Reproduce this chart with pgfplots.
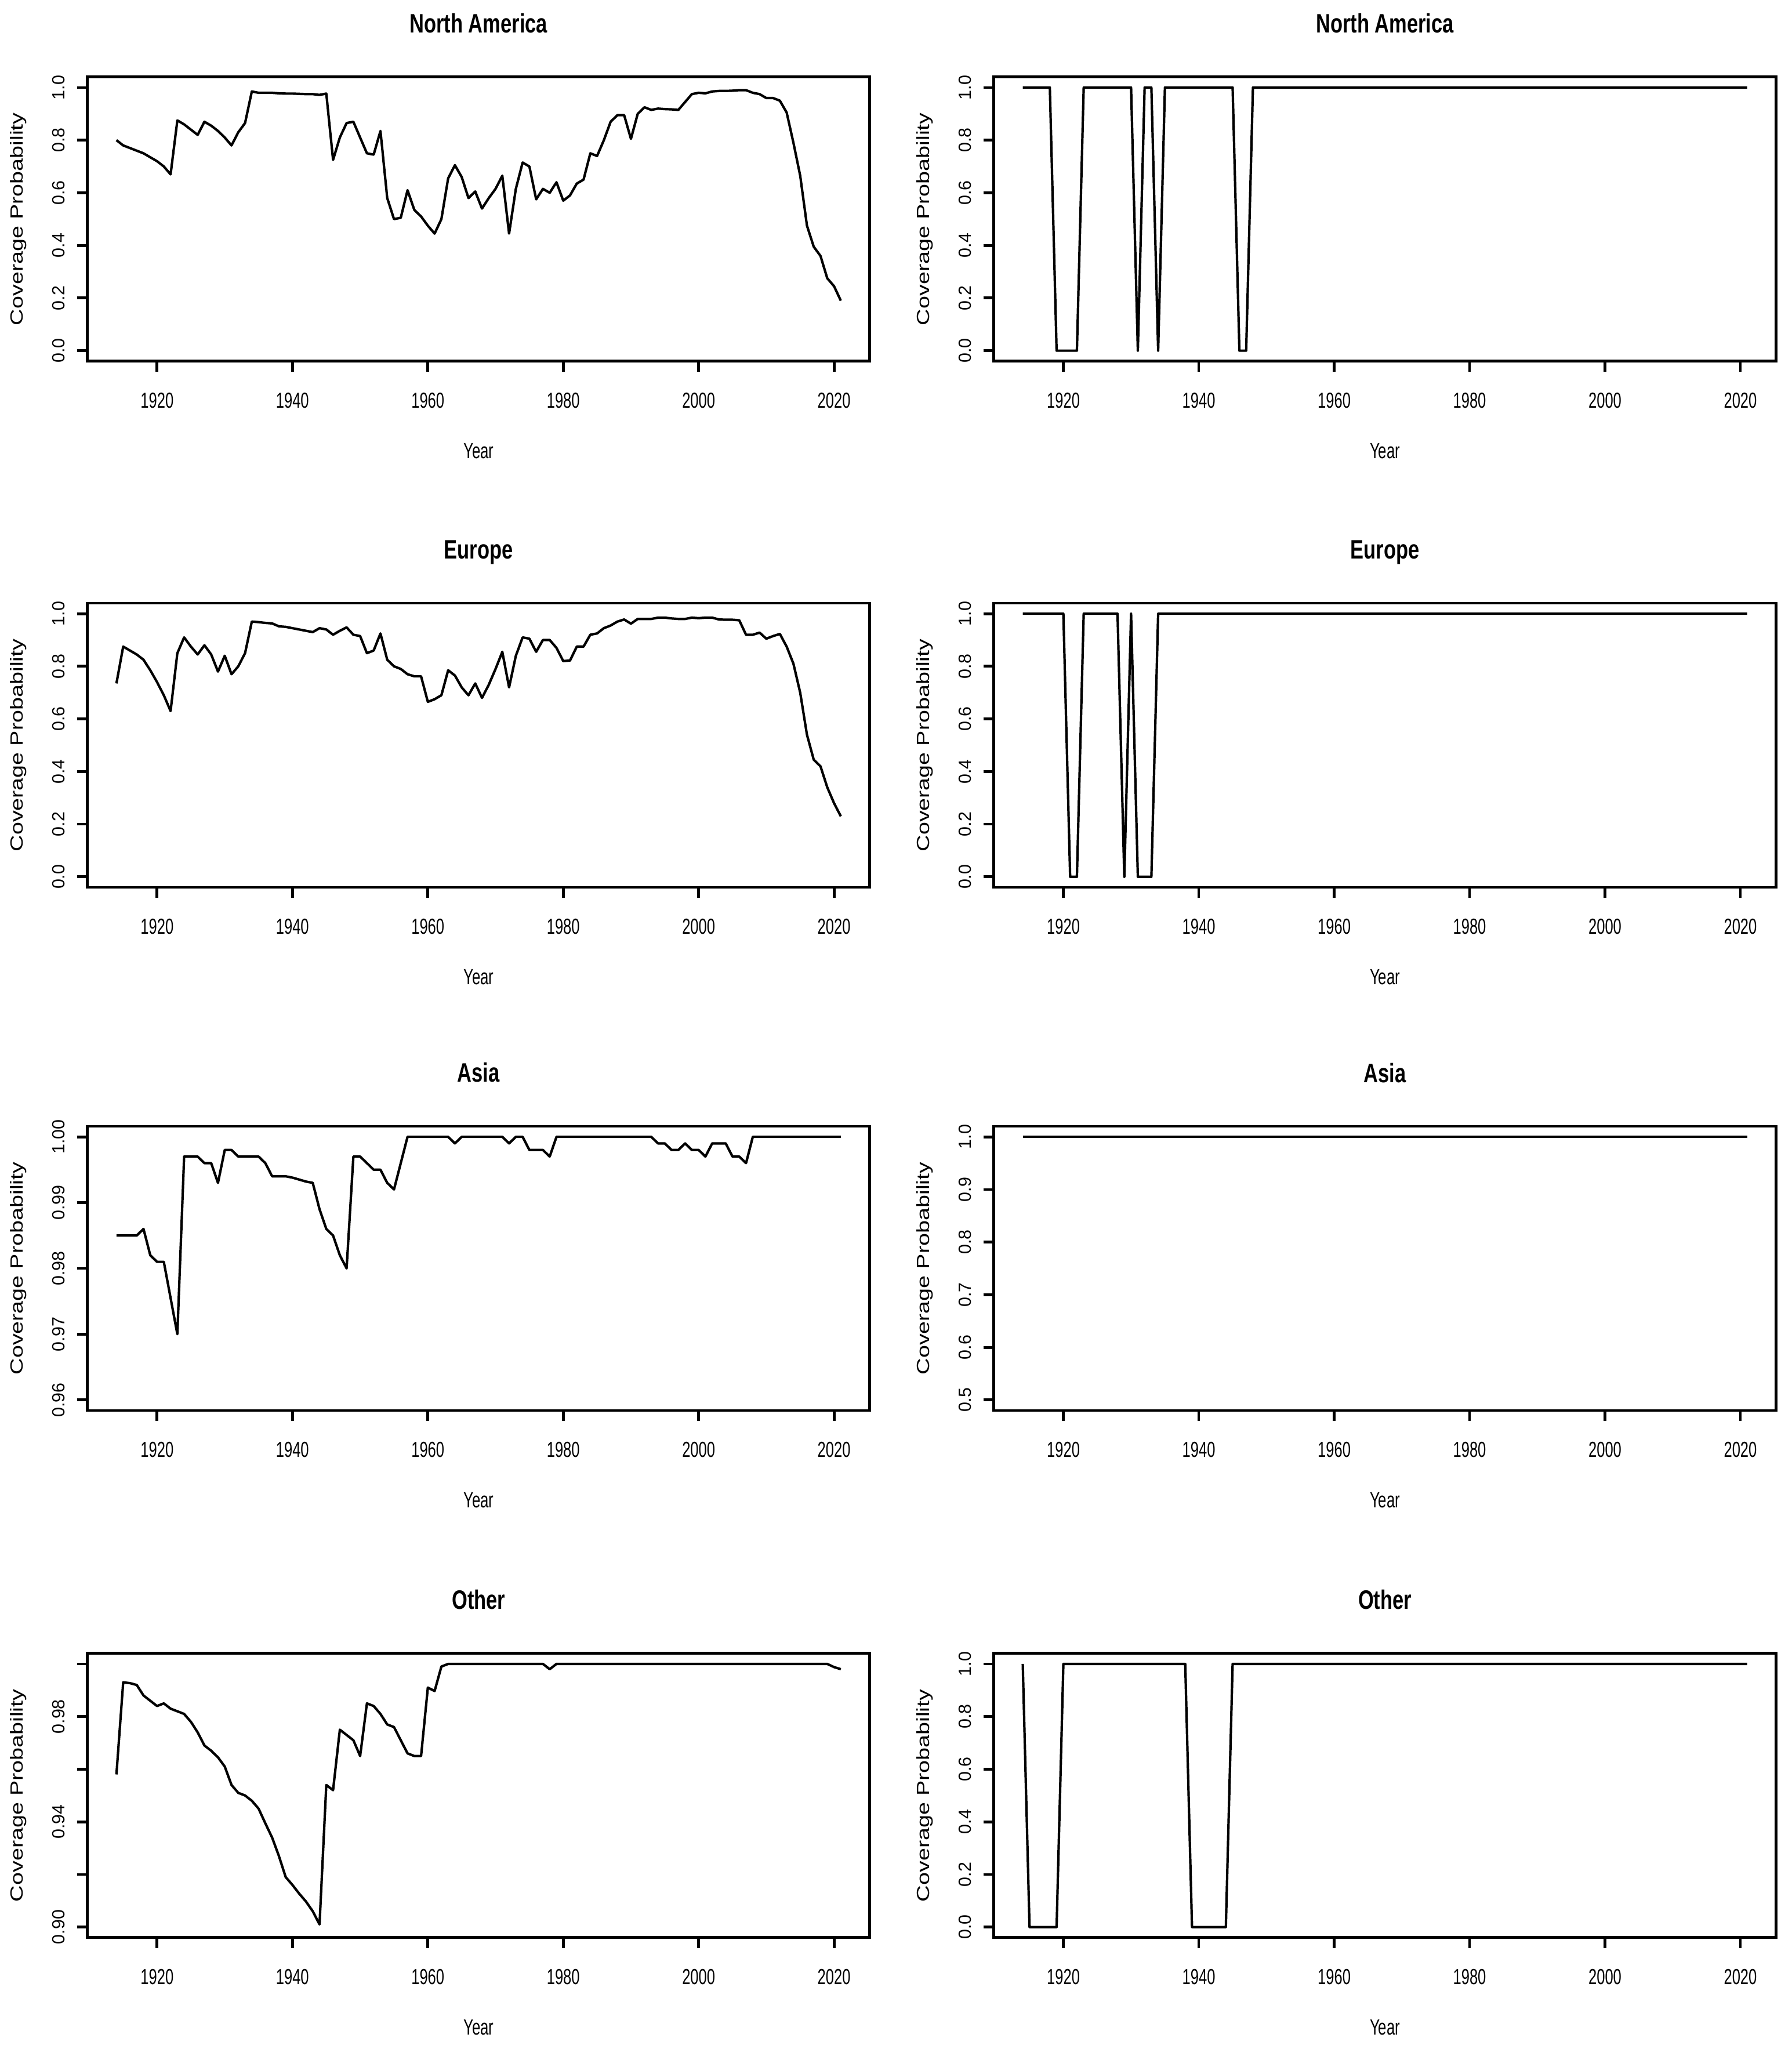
\documentclass[border=0pt]{standalone}
\usepackage{fontspec}
\setmainfont{Liberation Sans}
\newfontfamily\narrowfont{Liberation Sans}[FakeStretch=0.68]
\newfontfamily\titlefont{Liberation Sans}[FakeStretch=0.75]
\newfontfamily\widefont{Liberation Sans}[FakeStretch=1.3]
\usepackage{pgfplots}
\usepackage{pgfplotstable}
\pgfplotsset{compat=1.18}

% year, North America, Europe, Asia, Other
\pgfplotstableread{
year na eu as ot
1914 0.800 0.735 0.985 0.958
1915 0.780 0.875 0.985 0.993
1916 0.770 0.860 0.985 0.9927
1917 0.760 0.845 0.985 0.992
1918 0.750 0.825 0.986 0.988
1919 0.735 0.785 0.982 0.986
1920 0.720 0.740 0.981 0.984
1921 0.700 0.690 0.981 0.985
1922 0.670 0.630 0.9755 0.983
1923 0.875 0.850 0.970 0.982
1924 0.860 0.910 0.997 0.981
1925 0.840 0.875 0.997 0.978
1926 0.820 0.845 0.997 0.974
1927 0.870 0.880 0.996 0.969
1928 0.855 0.845 0.996 0.967
1929 0.835 0.780 0.993 0.9645
1930 0.810 0.840 0.998 0.961
1931 0.780 0.770 0.998 0.954
1932 0.830 0.800 0.997 0.951
1933 0.865 0.850 0.997 0.950
1934 0.985 0.970 0.997 0.948
1935 0.980 0.968 0.997 0.945
1936 0.980 0.965 0.996 0.9394
1937 0.980 0.963 0.994 0.934
1938 0.978 0.952 0.994 0.927
1939 0.977 0.950 0.994 0.919
1940 0.977 0.945 0.9938 0.916
1941 0.976 0.940 0.9935 0.9127
1942 0.975 0.935 0.9932 0.9097
1943 0.975 0.930 0.993 0.906
1944 0.972 0.945 0.989 0.901
1945 0.977 0.940 0.986 0.954
1946 0.725 0.920 0.985 0.952
1947 0.810 0.935 0.982 0.975
1948 0.865 0.948 0.980 0.973
1949 0.870 0.920 0.997 0.971
1950 0.810 0.915 0.997 0.965
1951 0.750 0.850 0.996 0.985
1952 0.745 0.860 0.995 0.984
1953 0.835 0.925 0.995 0.981
1954 0.580 0.825 0.993 0.977
1955 0.500 0.800 0.992 0.976
1956 0.505 0.790 0.996 0.971
1957 0.610 0.770 1.000 0.966
1958 0.535 0.762 1.000 0.965
1959 0.510 0.762 1.000 0.965
1960 0.475 0.665 1.000 0.991
1961 0.445 0.675 1.000 0.9897
1962 0.500 0.690 1.000 0.999
1963 0.655 0.785 1.000 1.000
1964 0.705 0.765 0.999 1.000
1965 0.660 0.720 1.000 1.000
1966 0.580 0.690 1.000 1.000
1967 0.605 0.735 1.000 1.000
1968 0.540 0.680 1.000 1.000
1969 0.580 0.730 1.000 1.000
1970 0.615 0.790 1.000 1.000
1971 0.665 0.855 1.000 1.000
1972 0.445 0.720 0.999 1.000
1973 0.615 0.840 1.000 1.000
1974 0.715 0.910 1.000 1.000
1975 0.700 0.905 0.998 1.000
1976 0.575 0.855 0.998 1.000
1977 0.615 0.900 0.998 1.000
1978 0.600 0.900 0.997 0.998
1979 0.640 0.870 1.000 1.000
1980 0.570 0.820 1.000 1.000
1981 0.590 0.822 1.000 1.000
1982 0.635 0.875 1.000 1.000
1983 0.650 0.875 1.000 1.000
1984 0.750 0.920 1.000 1.000
1985 0.740 0.925 1.000 1.000
1986 0.800 0.945 1.000 1.000
1987 0.870 0.955 1.000 1.000
1988 0.895 0.970 1.000 1.000
1989 0.895 0.978 1.000 1.000
1990 0.805 0.962 1.000 1.000
1991 0.900 0.980 1.000 1.000
1992 0.925 0.980 1.000 1.000
1993 0.915 0.980 1.000 1.000
1994 0.920 0.985 0.999 1.000
1995 0.918 0.985 0.999 1.000
1996 0.917 0.982 0.998 1.000
1997 0.915 0.980 0.998 1.000
1998 0.945 0.980 0.999 1.000
1999 0.975 0.985 0.998 1.000
2000 0.980 0.983 0.998 1.000
2001 0.978 0.985 0.997 1.000
2002 0.985 0.985 0.999 1.000
2003 0.987 0.978 0.999 1.000
2004 0.987 0.977 0.999 1.000
2005 0.988 0.977 0.997 1.000
2006 0.990 0.975 0.997 1.000
2007 0.990 0.920 0.996 1.000
2008 0.980 0.920 1.000 1.000
2009 0.975 0.928 1.000 1.000
2010 0.960 0.905 1.000 1.000
2011 0.960 0.915 1.000 1.000
2012 0.950 0.923 1.000 1.000
2013 0.905 0.875 1.000 1.000
2014 0.790 0.810 1.000 1.000
2015 0.665 0.700 1.000 1.000
2016 0.475 0.540 1.000 1.000
2017 0.395 0.445 1.000 1.000
2018 0.360 0.420 1.000 1.000
2019 0.275 0.340 1.000 1.000
2020 0.245 0.280 1.000 0.9988
2021 0.190 0.230 1.000 0.998
}\leftdata

% right column: 0/1 coverage, constant 1 after 1948
\pgfplotstableread{
year na eu as ot
1914 1 1 1 1
1915 1 1 1 0
1916 1 1 1 0
1917 1 1 1 0
1918 1 1 1 0
1919 0 1 1 0
1920 0 1 1 1
1921 0 0 1 1
1922 0 0 1 1
1923 1 1 1 1
1924 1 1 1 1
1925 1 1 1 1
1926 1 1 1 1
1927 1 1 1 1
1928 1 1 1 1
1929 1 0 1 1
1930 1 1 1 1
1931 0 0 1 1
1932 1 0 1 1
1933 1 0 1 1
1934 0 1 1 1
1935 1 1 1 1
1936 1 1 1 1
1937 1 1 1 1
1938 1 1 1 1
1939 1 1 1 0
1940 1 1 1 0
1941 1 1 1 0
1942 1 1 1 0
1943 1 1 1 0
1944 1 1 1 0
1945 1 1 1 1
1946 0 1 1 1
1947 0 1 1 1
1948 1 1 1 1
1949 1 1 1 1
1950 1 1 1 1
2021 1 1 1 1
}\rightdata

\pgfplotsset{
  rbox/.style={
    scale only axis, width=337.25pt, height=122.5pt, anchor=south west,
    xmin=1909.72, xmax=2025.28,
    xtick={1920,1940,1960,1980,2000,2020},
    xticklabels={1920,1940,1960,1980,2000,2020},
    tick pos=left, tick align=outside, major tick length=4.5pt,
    axis line style={line width=1.2pt},
    major tick style={black, line width=1.2pt},
    xticklabel style={font=\fontsize{9.4}{10}\selectfont\narrowfont,
      anchor=north, inner sep=0pt, yshift=-8.9pt},
    yticklabel style={font=\fontsize{7.6}{8}\selectfont,
      xshift=-5pt, rotate=90, anchor=south, inner sep=0pt},
    xlabel={Year}, ylabel={Coverage Probability},
    every axis x label/.style={at={(axis description cs:0.5,-0.3163)},
      anchor=center, font=\fontsize{9.5}{10}\selectfont\narrowfont},
    every axis y label/.style={at={(axis description cs:-0.0882,0.5)},
      rotate=90, anchor=center, font=\fontsize{7.6}{8}\selectfont\widefont},
    every axis title/.style={at={(axis description cs:0.5,1)},
      anchor=base, yshift=19pt,
      font=\fontsize{11.5}{12}\selectfont\titlefont\bfseries},
  },
  unit/.style={ymin=-0.04, ymax=1.04,
    ytick={0,0.2,0.4,0.6,0.8,1},
    yticklabels={0.0,0.2,0.4,0.6,0.8,1.0}},
  rline/.style={black, line width=1.05pt, no marks, line join=round},
}

\begin{document}
\begin{tikzpicture}
\path[use as bounding box] (0,0) rectangle (772.5pt,881.5pt);

% ---- left column ----
\begin{axis}[rbox, unit, at={(37.7pt,725.8pt)}, title={North America}]
\addplot[rline] table[x=year, y=na] {\leftdata};
\end{axis}

\begin{axis}[rbox, unit, at={(37.7pt,499pt)}, title={Europe}]
\addplot[rline] table[x=year, y=eu] {\leftdata};
\end{axis}

\begin{axis}[rbox, at={(37.7pt,273.5pt)}, title={Asia},
  ymin=0.9584, ymax=1.0016,
  ytick={0.96,0.97,0.98,0.99,1.00},
  yticklabels={0.96,0.97,0.98,0.99,1.00}]
\addplot[rline] table[x=year, y=as] {\leftdata};
\end{axis}

\begin{axis}[rbox, at={(37.7pt,46.3pt)}, title={Other},
  ymin=0.896, ymax=1.004,
  ytick={0.90,0.92,0.94,0.96,0.98,1.00},
  yticklabels={0.90,,0.94,,0.98,}]
\addplot[rline] table[x=year, y=ot] {\leftdata};
\end{axis}

% ---- right column ----
\begin{axis}[rbox, unit, at={(428.4pt,725.8pt)}, title={North America}]
\addplot[rline] table[x=year, y=na] {\rightdata};
\end{axis}

\begin{axis}[rbox, unit, at={(428.4pt,499pt)}, title={Europe}]
\addplot[rline] table[x=year, y=eu] {\rightdata};
\end{axis}

\begin{axis}[rbox, at={(428.4pt,273.5pt)}, title={Asia},
  ymin=0.48, ymax=1.02,
  ytick={0.5,0.6,0.7,0.8,0.9,1.0},
  yticklabels={0.5,0.6,0.7,0.8,0.9,1.0}]
\addplot[rline] table[x=year, y=as] {\rightdata};
\end{axis}

\begin{axis}[rbox, unit, at={(428.4pt,46.3pt)}, title={Other}]
\addplot[rline] table[x=year, y=ot] {\rightdata};
\end{axis}
\end{tikzpicture}
\end{document}
